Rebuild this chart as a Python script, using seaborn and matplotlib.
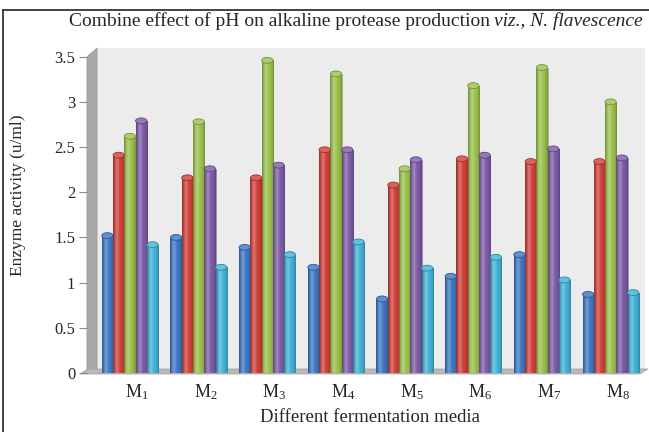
import numpy as np
import pandas as pd
import matplotlib
matplotlib.use("Agg")
import matplotlib.pyplot as plt
import matplotlib.transforms as mtransforms
from matplotlib.patches import Ellipse, Polygon, Rectangle
from matplotlib.lines import Line2D
from matplotlib.colors import to_rgb
import seaborn as sns

# ---- data -------------------------------------------------------------
media = ["M$_1$", "M$_2$", "M$_3$", "M$_4$", "M$_5$", "M$_6$", "M$_7$", "M$_8$"]
series_names = ["S1", "S2", "S3", "S4", "S5"]
s1 = [1.52, 1.50, 1.39, 1.17, 0.82, 1.07, 1.31, 0.87]
s2 = [2.41, 2.16, 2.16, 2.47, 2.08, 2.37, 2.34, 2.34]
s3 = [2.62, 2.78, 3.46, 3.31, 2.26, 3.18, 3.38, 3.00]
s4 = [2.79, 2.26, 2.30, 2.47, 2.36, 2.41, 2.48, 2.38]
s5 = [1.42, 1.17, 1.31, 1.45, 1.16, 1.28, 1.03, 0.89]
series_colors = ["#3d78c6", "#d1403a", "#9cc24d", "#7e5ca8", "#42b3d6"]
y_ticks = [0, 0.5, 1, 1.5, 2, 2.5, 3, 3.5]
y_tick_labels = ["0", "0.5", "1", "1.5", "2", "2.5", "3", "3.5"]

df = pd.DataFrame({
    "medium": np.tile(media, 5),
    "series": np.repeat(series_names, len(media)),
    "activity": np.concatenate([s1, s2, s3, s4, s5]),
})

# ---- style ------------------------------------------------------------
sns.set_theme(style="white")
plt.rcParams["font.family"] = ["Liberation Serif", "DejaVu Serif"]
plt.rcParams["mathtext.fontset"] = "custom"
plt.rcParams["mathtext.rm"] = "Liberation Serif"
plt.rcParams["mathtext.it"] = "Liberation Serif:italic"

W, H = 649, 432
fig = plt.figure(figsize=(W / 100, H / 100), dpi=100)
fig.patch.set_facecolor("white")


def fx(px):
    return px / W


def fy(py):
    return 1 - py / H


y0_px, y35_px = 373, 56.7
left_px, right_px = 95.6, 645
ax = fig.add_axes([fx(left_px), fy(y0_px), fx(right_px) - fx(left_px),
                   (y0_px - y35_px) / H])
ax.set_facecolor("none")
ax.set_zorder(2)

# back panel, side wall and floor drawn in figure pixel space
ftr = fig.transFigure
back = Rectangle((fx(97), fy(370)), fx(645) - fx(97), fy(48) - fy(370),
                 transform=ftr, facecolor="#ececec", edgecolor="none", zorder=0.2)
wall = Polygon([(fx(87), fy(374)), (fx(87), fy(57)), (fx(97), fy(48)), (fx(97), fy(370))],
               closed=True, transform=ftr, facecolor="#a9a9a9", edgecolor="#9a9a9a",
               lw=0.6, zorder=0.5)
floor = Polygon([(fx(80), fy(374)), (fx(640), fy(374)), (fx(648), fy(369)), (fx(88), fy(369))],
                closed=True, transform=ftr, facecolor="#b9b9b9", edgecolor="#a5a5a5",
                lw=0.6, zorder=0.5)
fig.patches.extend([back, wall, floor])

# ---- bars -------------------------------------------------------------
sns.barplot(data=df, x="medium", y="activity", hue="series",
            palette=series_colors, width=0.82, gap=0, saturation=1,
            legend=False, errorbar=None, ax=ax, zorder=2)

bars = list(ax.patches)
cap_h = 0.065
for bar in bars:
    base = np.array(to_rgb(bar.get_facecolor()))
    x, w, h = bar.get_x(), bar.get_width(), bar.get_height()
    t = np.linspace(0, 1, 64)
    shade = 0.74 + 0.26 * np.sin(np.pi * t) ** 0.6
    glow = 0.28 * np.exp(-((t - 0.33) / 0.16) ** 2)
    grad = base[None, :] * shade[:, None] + (1 - base[None, :]) * glow[:, None]
    grad = np.clip(grad, 0, 1)[None, :, :]
    im = ax.imshow(grad, extent=[x, x + w, 0, h], aspect="auto",
                   interpolation="bilinear", zorder=2.1)
    im.set_clip_path(bar)
    dark = base * 0.75
    bar.set_edgecolor(dark)
    bar.set_linewidth(0.4)
    bar.set_zorder(2.2)
    bar.set_facecolor("none")
    cap_face = base + (1 - base) * 0.18
    ax.add_patch(Ellipse((x + w / 2, h), w, cap_h, facecolor=cap_face,
                         edgecolor=dark, lw=0.6, zorder=2.3))

ax.set_xlim(-0.5, 7.5)
ax.set_ylim(0, 3.5)

# ---- axes cosmetics ---------------------------------------------------
for side in ["top", "right", "bottom", "left"]:
    ax.spines[side].set_visible(False)
ax.spines["left"].set_position(("outward", 6.2))

ax.set_yticks(y_ticks)
ax.set_yticklabels(y_tick_labels)
ax.tick_params(axis="y", direction="out", length=5.5, width=0.8, color="#8c8c8c",
               labelsize=12, pad=3, left=True)
ax.tick_params(axis="x", length=0, labelsize=13, pad=7)
shift = mtransforms.ScaledTranslation(5 / 72, 0, fig.dpi_scale_trans)
for lab in ax.get_xticklabels():
    lab.set_transform(lab.get_transform() + shift)

ax.set_xlabel("Different fermentation media", fontsize=13.5, labelpad=5)
ax.set_ylabel("")
fig.text(fx(18), fy(195), "Enzyme activity (u/ml)", rotation=90,
         ha="center", va="center", fontsize=12.5)

# title: roman lead-in followed by the italic organism name
title_y = fy(21)
it_part = fig.text(fx(643), title_y, "viz., N. flavescence", style="italic",
                   ha="right", va="center", fontsize=14)
fig.canvas.draw()
bb = it_part.get_window_extent()
fig.text(bb.x0 / W - fx(4), title_y,
         "Combine effect of pH on alkaline protease production",
         ha="right", va="center", fontsize=14)

# outer frame (left and top edges)
fig.lines.append(Line2D([fx(3), fx(3)], [0, fy(10)], transform=ftr, color="#222222", lw=1.2))
fig.lines.append(Line2D([fx(3), 1], [fy(10), fy(10)], transform=ftr, color="#222222", lw=1.2))

fig.savefig("out.png", dpi=100)
